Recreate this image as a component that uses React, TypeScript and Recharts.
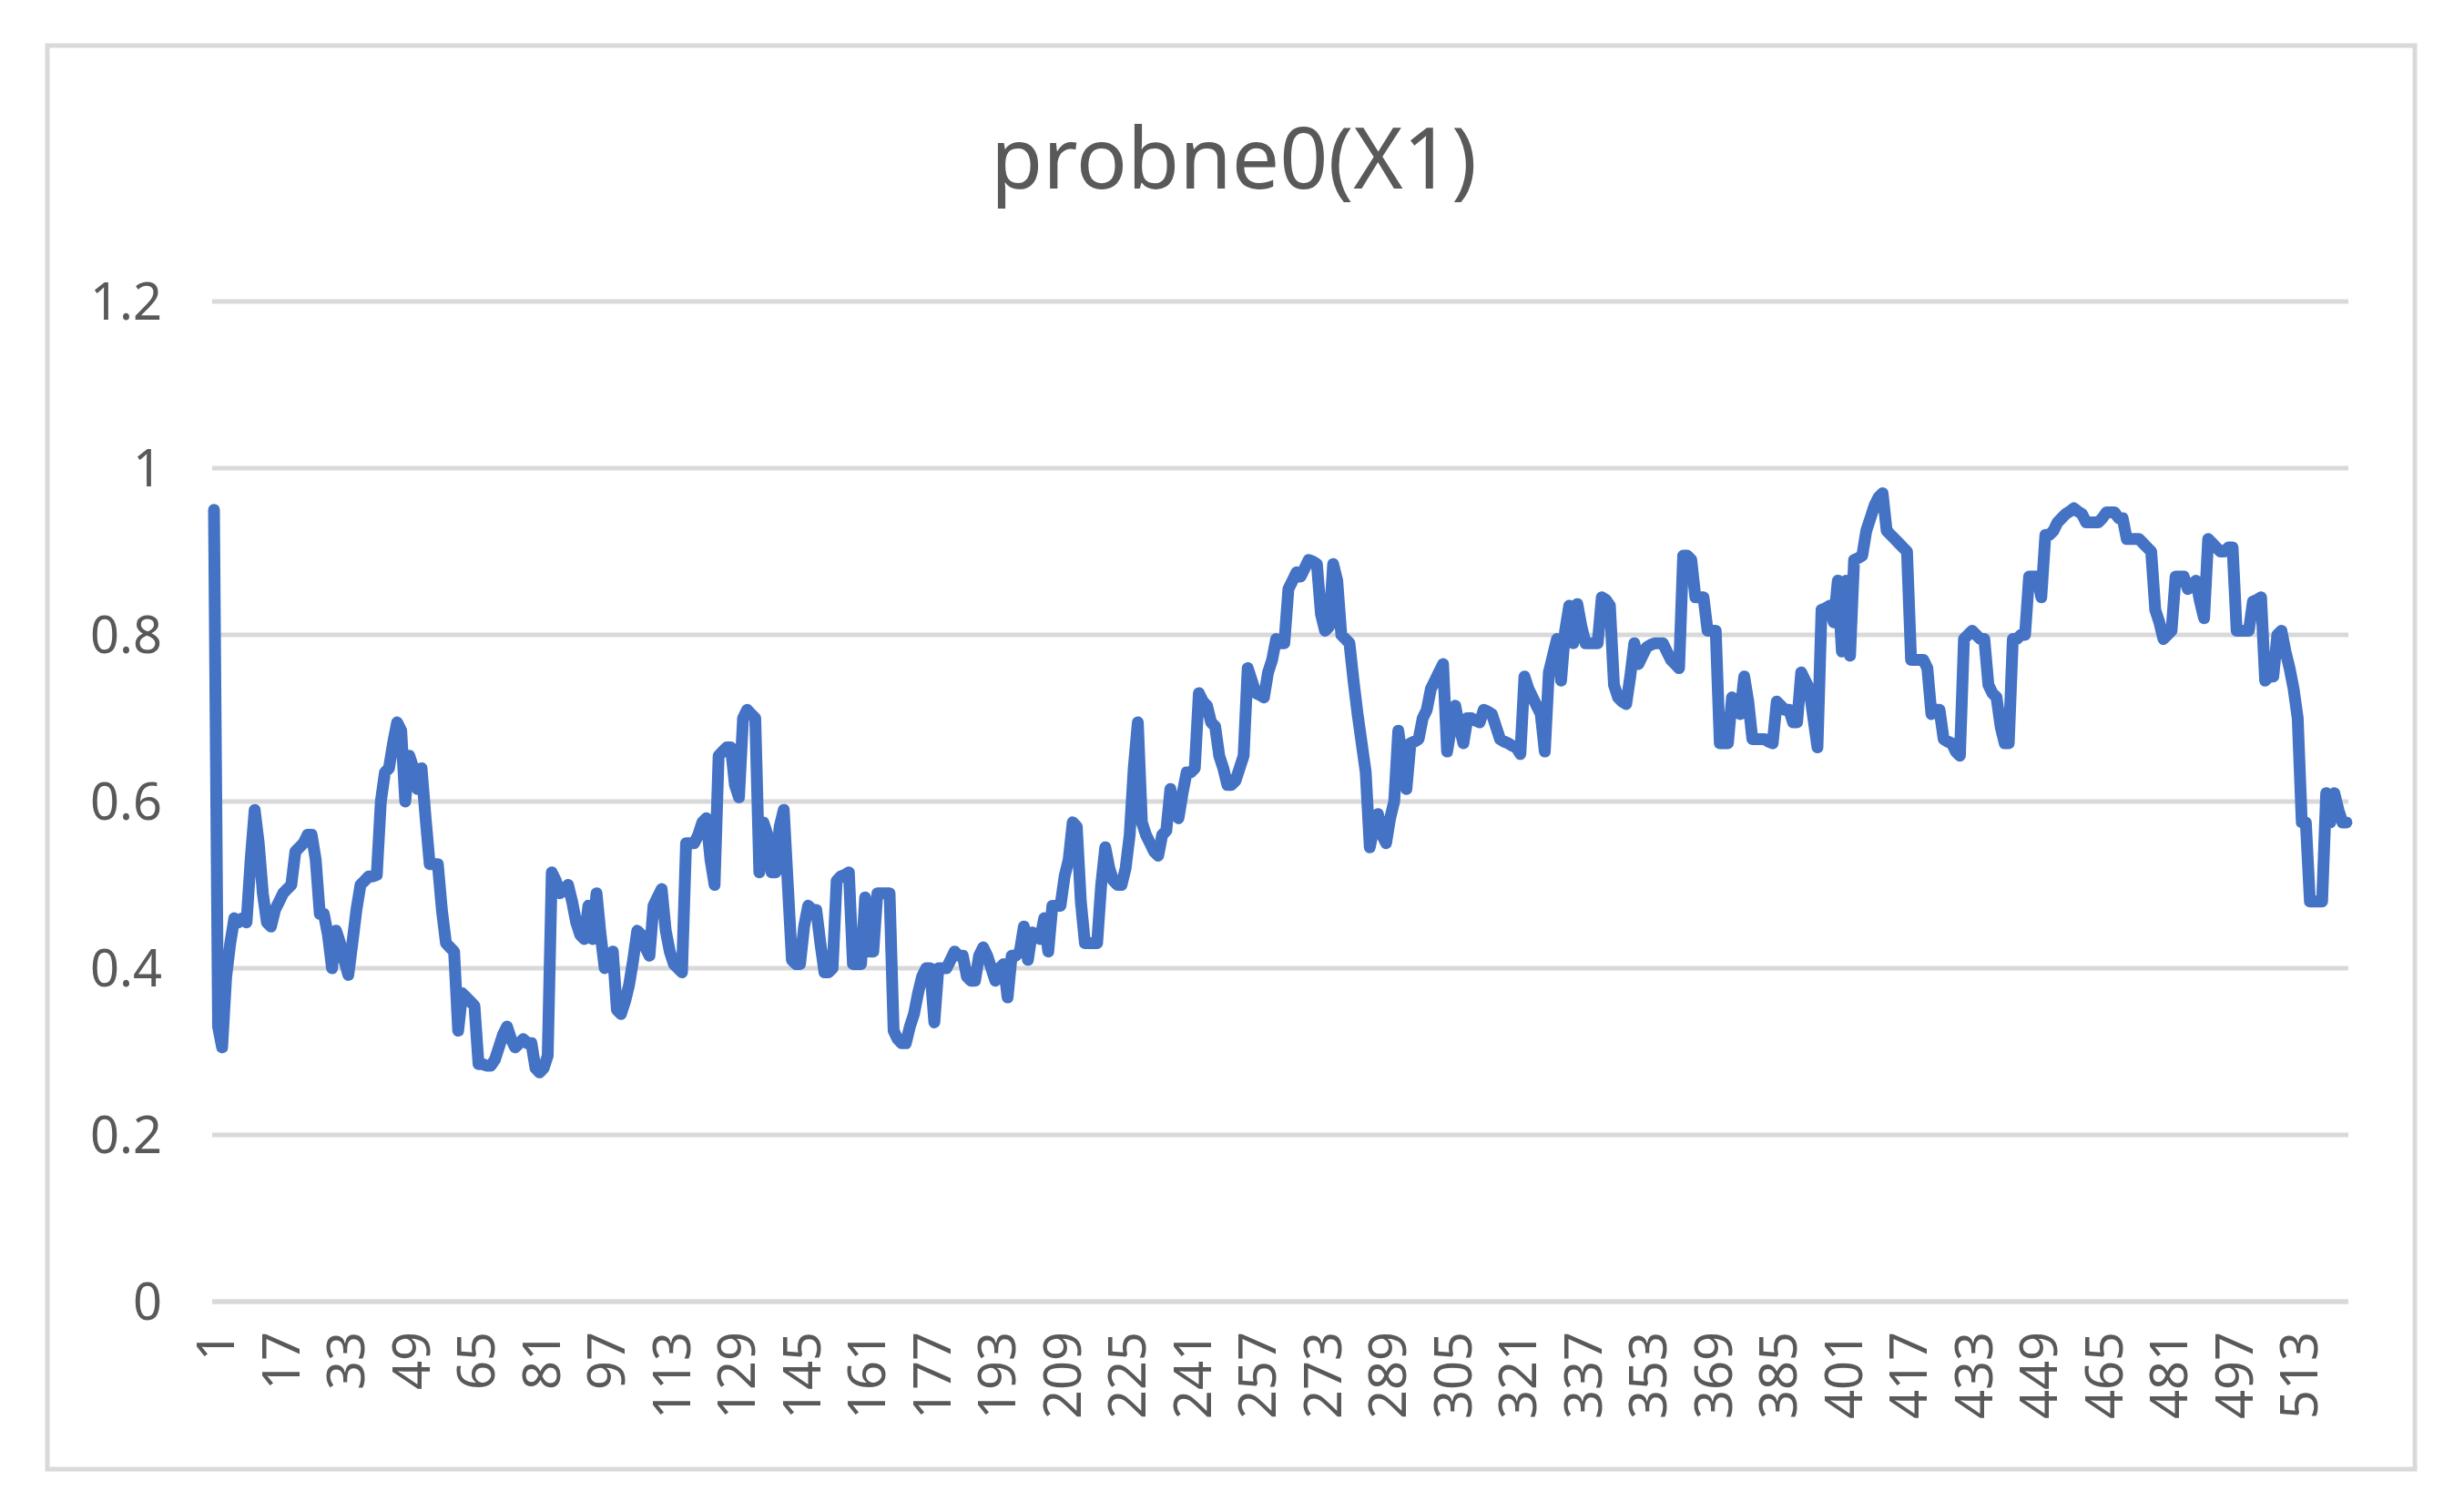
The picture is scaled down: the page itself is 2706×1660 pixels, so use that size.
import React from "react";
import { CartesianGrid, Line, LineChart, XAxis, YAxis } from "recharts";

// values, point by point (525 samples)
const seg1 = [
  0.95, 0.33, 0.305, 0.39, 0.43, 0.46, 0.455, 0.46, 0.455, 0.53, 0.59, 0.55, 0.49, 0.455, 0.45, 0.47, 0.48, 0.49, 0.495, 0.5,
  0.54, 0.545, 0.55, 0.56, 0.56, 0.53, 0.465, 0.465, 0.44, 0.4, 0.445, 0.43, 0.41, 0.392, 0.43, 0.47, 0.5, 0.505, 0.51, 0.51,
  0.512, 0.6, 0.635, 0.64, 0.67, 0.695, 0.685, 0.6, 0.655, 0.64, 0.615, 0.64, 0.58, 0.525, 0.525, 0.525, 0.47, 0.43, 0.425, 0.42,
  0.325, 0.37, 0.365, 0.36, 0.355, 0.285,
];
const seg2 = [
  0.285, 0.283, 0.283, 0.29, 0.305, 0.32, 0.33, 0.315, 0.305, 0.31, 0.315, 0.31, 0.31, 0.28, 0.275, 0.28, 0.295, 0.515, 0.505, 0.49,
  0.495, 0.5, 0.48, 0.455, 0.44, 0.435, 0.475, 0.435, 0.49, 0.44, 0.4, 0.41, 0.42, 0.35, 0.345, 0.36, 0.38, 0.41, 0.445, 0.44,
  0.425, 0.415, 0.475, 0.485, 0.495, 0.445, 0.42, 0.405, 0.4, 0.395, 0.55, 0.55, 0.55, 0.56, 0.575, 0.58, 0.53, 0.5, 0.655, 0.66,
  0.665, 0.665, 0.62, 0.605, 0.7, 0.71, 0.705,
];
const seg3 = [
  0.7, 0.515, 0.575, 0.56, 0.515, 0.515, 0.57, 0.59, 0.5, 0.41, 0.405, 0.405, 0.45, 0.475, 0.47, 0.47, 0.43, 0.395, 0.395, 0.4,
  0.505, 0.51, 0.512, 0.515, 0.405, 0.405, 0.405, 0.485, 0.42, 0.42, 0.49, 0.49, 0.49, 0.49, 0.325, 0.315, 0.31, 0.31, 0.33, 0.345,
  0.37, 0.39, 0.4, 0.4, 0.335, 0.4, 0.4, 0.4, 0.41, 0.42, 0.415, 0.415, 0.39, 0.385, 0.385, 0.415, 0.425, 0.415, 0.4, 0.385,
  0.4, 0.405, 0.365, 0.415, 0.415, 0.42, 0.45,
];
const seg4 = [
  0.41, 0.443, 0.44, 0.435, 0.46, 0.42, 0.475, 0.475, 0.475, 0.51, 0.53, 0.575, 0.57, 0.48, 0.43, 0.43, 0.43, 0.43, 0.5, 0.545,
  0.52, 0.505, 0.5, 0.5, 0.52, 0.56, 0.64, 0.695, 0.575, 0.56, 0.55, 0.54, 0.535, 0.56, 0.565, 0.615, 0.59, 0.58, 0.61, 0.635,
  0.635, 0.64, 0.73, 0.72, 0.715, 0.695, 0.69, 0.655, 0.64, 0.62, 0.62, 0.625, 0.64, 0.655, 0.76, 0.745, 0.73, 0.728, 0.725, 0.755,
  0.77, 0.795, 0.79, 0.79, 0.855, 0.865, 0.875,
];
const seg5 = [
  0.87, 0.88, 0.89, 0.888, 0.885, 0.825, 0.805, 0.81, 0.885, 0.865, 0.8, 0.795, 0.79, 0.745, 0.705, 0.67, 0.635, 0.545, 0.57, 0.585,
  0.56, 0.55, 0.58, 0.6, 0.685, 0.65, 0.615, 0.67, 0.672, 0.675, 0.7, 0.71, 0.735, 0.745, 0.755, 0.765, 0.66, 0.69, 0.715, 0.69,
  0.67, 0.7, 0.7, 0.697, 0.695, 0.71, 0.708, 0.705, 0.69, 0.675, 0.672, 0.67, 0.667, 0.665, 0.657, 0.75, 0.735, 0.725, 0.715, 0.705,
  0.66, 0.755, 0.775, 0.795, 0.745, 0.805, 0.835,
];
const seg6 = [
  0.79, 0.837, 0.81, 0.79, 0.79, 0.79, 0.79, 0.845, 0.842, 0.835, 0.74, 0.725, 0.72, 0.717, 0.75, 0.79, 0.765, 0.775, 0.785, 0.788,
  0.79, 0.79, 0.79, 0.78, 0.77, 0.765, 0.76, 0.895, 0.895, 0.89, 0.845, 0.845, 0.845, 0.805, 0.805, 0.805, 0.67, 0.67, 0.67, 0.725,
  0.715, 0.705, 0.75, 0.72, 0.675, 0.675, 0.675, 0.675, 0.672, 0.67, 0.72, 0.715, 0.71, 0.71, 0.695, 0.695, 0.755, 0.745, 0.735, 0.7,
  0.665, 0.83, 0.832, 0.835, 0.815, 0.865, 0.78,
];
const seg7 = [
  0.865, 0.775, 0.89, 0.892, 0.895, 0.925, 0.94, 0.955, 0.965, 0.97, 0.925, 0.92, 0.915, 0.91, 0.905, 0.9, 0.77, 0.77, 0.77, 0.77,
  0.76, 0.705, 0.71, 0.71, 0.675, 0.672, 0.67, 0.66, 0.655, 0.795, 0.8, 0.805, 0.8, 0.795, 0.795, 0.74, 0.73, 0.725, 0.69, 0.67,
  0.67, 0.795, 0.795, 0.8, 0.8, 0.87, 0.87, 0.87, 0.845, 0.92, 0.92, 0.925, 0.935, 0.94, 0.945, 0.948, 0.952, 0.948, 0.945, 0.935,
  0.935, 0.935, 0.935, 0.94, 0.947, 0.947, 0.947,
];
const seg8 = [
  0.94, 0.94, 0.915, 0.915, 0.915, 0.915, 0.91, 0.905, 0.9, 0.83, 0.815, 0.795, 0.8, 0.805, 0.87, 0.87, 0.87, 0.855, 0.86, 0.865,
  0.84, 0.82, 0.915, 0.91, 0.905, 0.9, 0.9, 0.905, 0.905, 0.805, 0.805, 0.805, 0.805, 0.84, 0.842, 0.845, 0.745, 0.75, 0.75, 0.8,
  0.805, 0.78, 0.76, 0.735, 0.7, 0.575, 0.575, 0.48, 0.48, 0.48, 0.48, 0.61, 0.575, 0.61, 0.59, 0.575, 0.575,
];

const values = [...seg1, ...seg2, ...seg3, ...seg4, ...seg5, ...seg6, ...seg7, ...seg8];
const yTicks = [0, 0.2, 0.4, 0.6, 0.8, 1, 1.2];
const title = "probne0(X1)";

const data = values.map((v, i) => ({ idx: String(i + 1), v }));

const FONT = "'Noto Sans', 'DejaVu Sans', sans-serif";
const TEXT = "#595959";
const GRID = "#d9d9d9";

function XTick({ x, y, payload }: any) {
  return (
    <text x={x} y={y} transform={`rotate(-90 ${x} ${y})`} textAnchor="end" dominantBaseline="central" fill={TEXT} fontSize={56} fontFamily={FONT}>
      {payload.value}
    </text>
  );
}

export default function App() {
  return (
    <div style={{ position: "absolute", left: 0, top: 0, width: 2706, height: 1660, background: "#fff" }}>
      <svg width={2706} height={1660} style={{ position: "absolute", left: 0, top: 0 }}>
        <rect x={52} y={50} width={2600} height={1563} fill="#fff" stroke={GRID} strokeWidth={5} />
        <text x={1355} y={207} textAnchor="middle" fill={TEXT} fontSize={93} fontFamily={FONT}>
          {title}
        </text>
      </svg>
      <div style={{ position: "absolute", left: 0, top: 0 }}>
        <LineChart width={2706} height={1660} data={data} margin={{ top: 331, right: 127, bottom: 31, left: 113 }}>
          <CartesianGrid horizontal vertical={false} stroke={GRID} strokeWidth={5} />
          <XAxis
            dataKey="idx"
            interval={15}
            tick={<XTick />}
            tickLine={false}
            tickSize={0}
            tickMargin={33}
            height={200}
            axisLine={{ stroke: GRID, strokeWidth: 5 }}
            padding={{ left: 2, right: 2 }}
          />
          <YAxis
            domain={[0, 1.2]}
            ticks={yTicks}
            width={120}
            axisLine={false}
            tickLine={false}
            tickSize={0}
            tickMargin={55}
            tick={{ fill: TEXT, fontSize: 56, fontFamily: FONT }}
          />
          <Line type="linear" dataKey="v" stroke="#4472c4" strokeWidth={13} strokeLinejoin="round" strokeLinecap="round" dot={false} isAnimationActive={false} />
        </LineChart>
      </div>
    </div>
  );
}
